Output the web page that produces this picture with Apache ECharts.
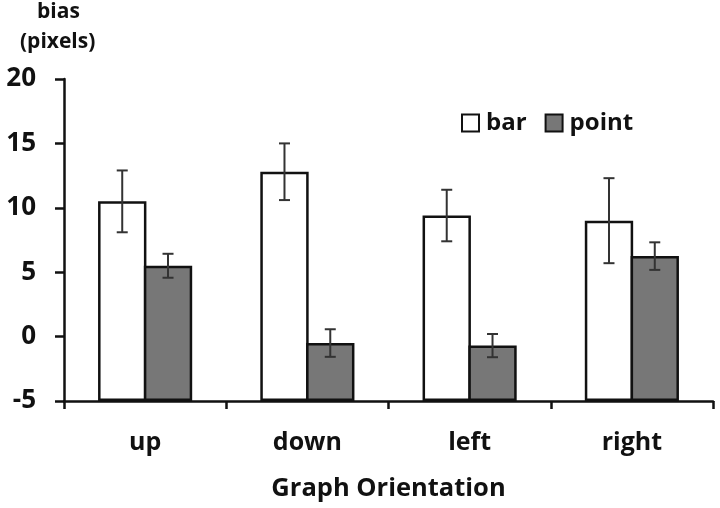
<!DOCTYPE html>
<html>
<head>
<meta charset="utf-8">
<script src="https://cdn.jsdelivr.net/npm/echarts@6/dist/echarts.min.js"></script>
<style>html,body{margin:0;padding:0;background:#fff}#c{width:720px;height:508px}</style>
</head>
<body>
<div id="c"></div>
<script>
const categories = ['up', 'down', 'left', 'right'];
const barValues = [10.5, 12.8, 9.4, 9.0];
const barErrors = [2.4, 2.2, 2.0, 3.3];
const pointValues = [5.5, -0.5, -0.7, 6.25];
const pointErrors = [0.93, 1.07, 0.9, 1.07];
const yTicks = [-5, 0, 5, 10, 15, 20];

const FONT = '"Open Sans", "Liberation Sans", sans-serif';
const chart = echarts.init(document.getElementById('c'), null, {renderer: 'canvas'});

const errData = [];
categories.forEach((c, i) => {
  errData.push([i, barValues[i] - barErrors[i], barValues[i] + barErrors[i], 0]);
  errData.push([i, pointValues[i] - pointErrors[i], pointValues[i] + pointErrors[i], 1]);
});

const BAR_FRAC = 0.298;
const GAP = -0.053;

chart.setOption({
  animation: false,
  backgroundColor: '#fff',
  grid: {left: 64, right: 7, top: 79, bottom: 107, containLabel: false},
  legend: {
    data: ['bar', 'point'],
    icon: 'rect',
    left: 456, top: 106,
    itemWidth: 17, itemHeight: 17, itemGap: 18,
    itemStyle: {borderColor: '#111', borderWidth: 2},
    textStyle: {fontFamily: FONT, fontSize: 24, fontWeight: 'bold', color: '#111', padding: [0, 0, 0, 2]}
  },
  graphic: [
    {type: 'text', left: 37, top: 2, style: {text: 'bias', font: 'bold 21px ' + FONT, fill: '#111'}},
    {type: 'text', left: 20, top: 32, style: {text: '(pixels)', font: 'bold 21px ' + FONT, fill: '#111'}}
  ],
  xAxis: {
    type: 'category',
    data: categories,
    name: 'Graph Orientation',
    nameLocation: 'middle',
    nameGap: 75,
    nameTextStyle: {fontFamily: FONT, fontSize: 25.5, fontWeight: 'bold', color: '#111'},
    axisLine: {onZero: false, lineStyle: {color: '#111', width: 2.5}},
    axisTick: {show: true, length: 8, lineStyle: {color: '#111', width: 2.5}},
    axisLabel: {fontFamily: FONT, fontSize: 25, fontWeight: 'bold', color: '#111', margin: 29},
    splitLine: {show: false}
  },
  yAxis: {
    type: 'value',
    min: -5, max: 20, interval: 5,
    startValue: -5,
    axisLine: {show: true, lineStyle: {color: '#111', width: 2.5}},
    axisTick: {show: true, length: 9, lineStyle: {color: '#111', width: 2.5}},
    axisLabel: {fontFamily: FONT, fontSize: 26, fontWeight: 'bold', color: '#111', margin: 28,
      formatter: v => yTicks.includes(v) ? String(v) : ''},
    splitLine: {show: false}
  },
  series: [
    {
      name: 'bar', type: 'bar', data: barValues,
      barWidth: (BAR_FRAC * 100) + '%', barGap: (GAP * 100) + '%',
      itemStyle: {color: '#fff', borderColor: '#111', borderWidth: 2.5}
    },
    {
      name: 'point', type: 'bar', data: pointValues,
      barWidth: (BAR_FRAC * 100) + '%', barGap: (GAP * 100) + '%',
      itemStyle: {color: '#777', borderColor: '#111', borderWidth: 2.5}
    },
    {
      type: 'custom',
      data: errData,
      encode: {x: 0, y: [1, 2]},
      z: 10,
      renderItem: function (params, api) {
        const idx = api.value(0);
        const lo = api.value(1), hi = api.value(2), s = api.value(3);
        const band = api.size([1, 0])[0];
        const off = (s === 0 ? -1 : 1) * BAR_FRAC * band * (1 + GAP) / 2;
        const pLo = api.coord([idx, lo]);
        const pHi = api.coord([idx, hi]);
        const x = pLo[0] + off;
        const cap = 5.5;
        const st = {stroke: '#333', lineWidth: 2};
        return {
          type: 'group',
          children: [
            {type: 'line', shape: {x1: x, y1: pLo[1], x2: x, y2: pHi[1]}, style: st},
            {type: 'line', shape: {x1: x - cap, y1: pLo[1], x2: x + cap, y2: pLo[1]}, style: st},
            {type: 'line', shape: {x1: x - cap, y1: pHi[1], x2: x + cap, y2: pHi[1]}, style: st}
          ]
        };
      }
    }
  ]
});
</script>
</body>
</html>
